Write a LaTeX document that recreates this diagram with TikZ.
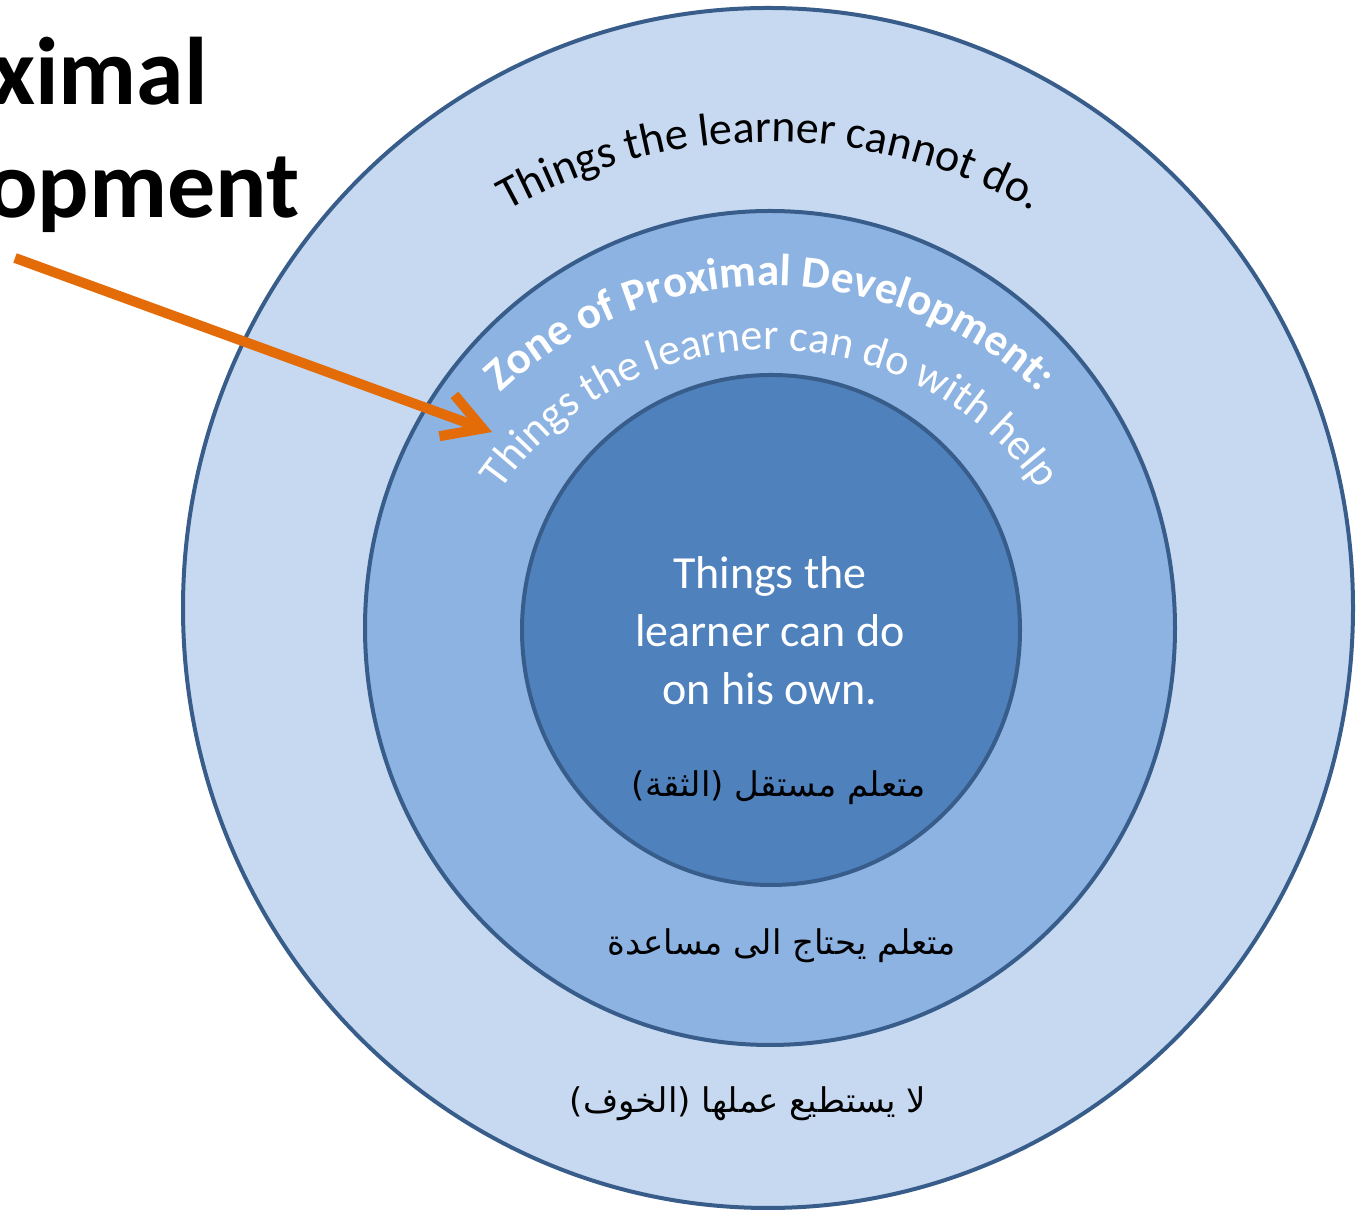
\documentclass[tikz,border=0pt]{standalone}
\usepackage{fontspec}
\setmainfont{Carlito}
\newfontfamily\arabicfont[Script=Arabic]{DejaVu Sans}
\TeXXeTstate=1
\usetikzlibrary{decorations.text, arrows.meta}
\definecolor{outerfill}{HTML}{C6D9F1}
\definecolor{midfill}{HTML}{8DB3E2}
\definecolor{innerfill}{HTML}{4F81BD}
\definecolor{ringline}{HTML}{385D8A}
\definecolor{arroworange}{HTML}{E36C09}
\begin{document}
\begin{tikzpicture}[x=1pt,y=1pt,
  ring/.style={draw=ringline, line width=4pt},
  titletext/.style={anchor=base east, inner sep=0pt, font=\fontsize{96}{100}\selectfont\bfseries},
  owntext/.style={anchor=base, inner sep=0pt, text=white, font=\fontsize{46}{50}\selectfont},
  arabictext/.style={anchor=base, inner sep=0pt, text=black, font=\fontsize{34}{40}\selectfont\arabicfont},
  pointer/.style={draw=arroworange, line width=10pt, -{Straight Barb[length=38pt, width=44pt]}}
]
\useasboundingbox (0,0) rectangle (1361,1212);
\begin{scope}
\clip (0,0) rectangle (1361,1212);
\fill[white] (0,0) rectangle (1361,1212);
% rings
\draw[ring, fill=outerfill] (768,604) ellipse[x radius=585, y radius=600];
\draw[ring, fill=midfill] (770,584) ellipse[x radius=405, y radius=417];
\draw[ring, fill=innerfill] (771,582) ellipse[x radius=249, y radius=255];
% title fragments
\node[titletext] (title1) at (208,1107) {ximal};
\node[titletext] (title2) at (300,994) {opment};
% arrow
\coordinate (arrowstart) at (15,954);
\coordinate (arrowtip) at (492,780);
\draw[pointer] (arrowstart) -- (arrowtip);
% curved texts
\coordinate (C) at (770,534);
\path[decorate, decoration={text along path, text align=center,
  text={|\fontsize{46}{50}\selectfont|Things the learner cannot do.}}]
  ([shift={(150:536)}]C) arc[start angle=150, end angle=30, radius=536];
\path[decorate, decoration={text along path, text align=center,
  text={|\fontsize{45}{50}\selectfont\bfseries\color{white}|Zone of Proximal Development:}}]
  ([shift={(160:392)}]C) arc[start angle=160, end angle=20, radius=392];
\path[decorate, decoration={text along path, text align=center,
  text={|\fontsize{44}{50}\selectfont\color{white}|Things the learner can do with help}}]
  ([shift={(168:328)}]C) arc[start angle=168, end angle=12, radius=328];
% inner text
\node[owntext] (own1) at (770,623) {Things the};
\node[owntext] (own2) at (770,565) {learner can do};
\node[owntext] (own3) at (770,507) {on his own.};
% arabic
\node[arabictext] (ar1) at (779,415) {\beginR متعلم مستقل (الثقة)\endR};
\node[arabictext] (ar2) at (782,257) {\beginR متعلم يحتاج الى مساعدة\endR};
\node[arabictext] (ar3) at (748,99) {\beginR لا يستطيع عملها (الخوف)\endR};
\end{scope}
\end{tikzpicture}
\end{document}
